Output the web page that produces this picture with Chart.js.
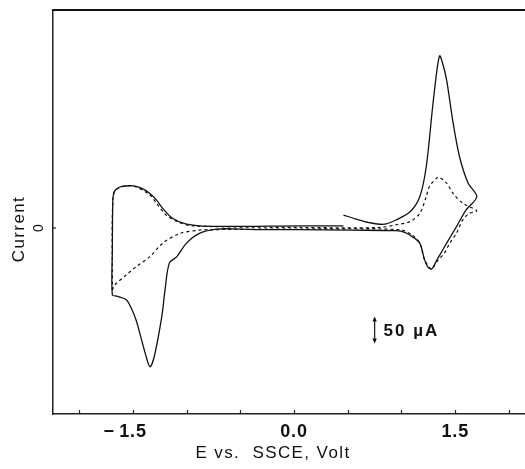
<!DOCTYPE html>
<html>
<head>
<meta charset="utf-8">
<script src="https://cdn.jsdelivr.net/npm/chart.js@4.4.0/dist/chart.umd.min.js"></script>
<style>
  html, body { margin: 0; padding: 0; background: #fff; }
  canvas { display: block; }
</style>
</head>
<body>
<canvas id="cv" width="525" height="469"></canvas>
<script>
// first scan (solid line): potential in V vs SSCE, current in µA
const solidPotential = [0.46, 0.57, 0.70, 0.84, 0.95, 1.08, 1.17, 1.23, 1.29, 1.33, 1.355, 1.38, 1.42, 1.48, 1.54, 1.62, 1.70,
  1.60, 1.51, 1.42, 1.33, 1.28, 1.245, 1.215, 1.17, 1.10, 1.03, 0.95, 0.52, 0.05, -0.32, -0.50, -0.72,
  -0.88, -1.00, -1.09, -1.16, -1.20, -1.23, -1.30, -1.34, -1.38, -1.41, -1.47, -1.52, -1.56, -1.62, -1.65, -1.69,
  -1.69, -1.685, -1.673, -1.652, -1.60, -1.50, -1.42, -1.34, -1.28, -1.22, -1.13, -1.00, -0.78, 0.05, 0.46];
const solidCurrent = [24, 17, 10, 7, 15, 30, 58, 113, 225, 293, 319, 307, 274, 195, 132, 83, 58,
  33, 2, -28, -59, -76, -72, -59, -28, -16, -8, -5, -4, -3, -3, -2, -2,
  -10, -28, -53, -65, -115, -164, -238, -257, -235, -213, -170, -146, -133, -128, -126, -124,
  -41, 52, 67, 72, 77, 78, 74, 64, 52, 36, 18, 7, 3, 4, 4];

// second scan (dotted line)
const dashedPotential = [-1.69, -1.686, -1.652, -1.50, -1.34, -1.28, -1.19, -1.09, -0.94, 0.05, 0.80, 0.95, 1.08, 1.17, 1.23,
  1.26, 1.325, 1.35, 1.42, 1.48, 1.57, 1.70, 1.63, 1.57, 1.51, 1.45, 1.40, 1.325, 1.28, 1.215, 1.17, 1.10, 0.98,
  0.05, -0.78, -0.88, -1.06, -1.22, -1.34, -1.47, -1.56, -1.67, -1.69];
const dashedCurrent = [-115, 52, 72, 78, 61, 46, 24, 12, 4, 1, 1, 6, 12, 27, 58,
  77, 92, 94, 83, 64, 46, 32, 27, 15, -10, -28, -46, -63, -76, -59, -28, -13, -3,
  -2, -3, -4, -10, -28, -53, -72, -87, -106, -115];

const xTicks = [-2.0, -1.5, -1.0, -0.5, 0.0, 0.5, 1.0, 1.5, 2.0];
// the minus hangs to the left of the tick in the original, so pad the right side
const xTickLabels = ['', '\u2212\u20091.5\u2007\u2009', '', '', '0.0', '', '', '1.5', ''];
const yTicks = [0];
const yTickLabels = ['0'];
const scaleBar = { potential: 0.75, from: -214, to: -164, label: '50 \u00b5A' };
const xTitle = 'E vs.  SSCE, Volt';
const yTitle = 'Current';

const toPoints = (xs, ys) => xs.map((x, i) => ({ x: x, y: ys[i] }));

const FONT = '"Liberation Sans", Arial, Helvetica, sans-serif';

const extras = {
  id: 'extras',
  beforeDraw(chart) {
    chart.ctx.letterSpacing = '0.8px';
  },
  beforeDatasetsDraw(chart) {
    chart.ctx.letterSpacing = '0px';
  },
  afterDraw(chart) {
    const ctx = chart.ctx;
    const xs = chart.scales.x;
    const ys = chart.scales.y;
    ctx.save();
    ctx.strokeStyle = '#222';
    ctx.fillStyle = '#111';
    ctx.lineWidth = 1.2;

    // small inward tick marks
    xTicks.forEach(v => {
      const px = Math.round(xs.getPixelForValue(v)) + 0.5;
      ctx.beginPath();
      ctx.moveTo(px, ys.bottom);
      ctx.lineTo(px, ys.bottom - 4);
      ctx.stroke();
    });
    yTicks.forEach((v, i) => {
      const py = ys.getPixelForValue(v);
      ctx.beginPath();
      ctx.moveTo(xs.left, py);
      ctx.lineTo(xs.left + 3, py);
      ctx.stroke();
      ctx.save();
      ctx.translate(39, py);
      ctx.rotate(-Math.PI / 2);
      ctx.font = '14px ' + FONT;
      ctx.textAlign = 'center';
      ctx.textBaseline = 'middle';
      ctx.fillText(yTickLabels[i], 0, 0);
      ctx.restore();
    });

    // 50 µA scale bar
    const bx = xs.getPixelForValue(scaleBar.potential);
    const y1 = ys.getPixelForValue(scaleBar.to);
    const y2 = ys.getPixelForValue(scaleBar.from);
    ctx.lineWidth = 1.3;
    ctx.beginPath();
    ctx.moveTo(bx, y1 + 2);
    ctx.lineTo(bx, y2 - 2);
    ctx.stroke();
    ctx.beginPath();
    ctx.moveTo(bx, y1); ctx.lineTo(bx - 2.2, y1 + 5); ctx.lineTo(bx + 2.2, y1 + 5); ctx.closePath();
    ctx.moveTo(bx, y2); ctx.lineTo(bx - 2.2, y2 - 5); ctx.lineTo(bx + 2.2, y2 - 5); ctx.closePath();
    ctx.fill();
    ctx.font = 'bold 17px ' + FONT;
    ctx.letterSpacing = '2px';
    ctx.textAlign = 'left';
    ctx.textBaseline = 'middle';
    ctx.fillText(scaleBar.label, bx + 9, (y1 + y2) / 2 + 1);

    // axis titles
    ctx.font = '17px ' + FONT;
    ctx.letterSpacing = '1.4px';
    ctx.textAlign = 'center';
    ctx.fillText(xTitle, 273, 453);
    ctx.save();
    ctx.translate(19, 229);
    ctx.rotate(-Math.PI / 2);
    ctx.fillText(yTitle, 0, 0);
    ctx.restore();

    ctx.restore();
  }
};

new Chart(document.getElementById('cv'), {
  type: 'scatter',
  data: {
    datasets: [
      {
        label: 'scan 1',
        data: toPoints(solidPotential, solidCurrent),
        showLine: true,
        borderColor: '#111',
        borderWidth: 1.3,
        pointRadius: 0,
        tension: 0.3,
        fill: false,
      },
      {
        label: 'scan 2',
        data: toPoints(dashedPotential, dashedCurrent),
        showLine: true,
        borderColor: '#111',
        borderWidth: 1.2,
        borderDash: [3, 3],
        pointRadius: 0,
        tension: 0.3,
        fill: false,
      },
    ]
  },
  options: {
    responsive: false,
    animation: false,
    layout: { padding: { top: 9.5, right: 0, bottom: 0, left: 0 } },
    plugins: {
      legend: { display: false },
      tooltip: { enabled: false },
    },
    scales: {
      x: {
        type: 'linear',
        position: 'bottom',
        min: -2.242,
        max: 2.149,
        afterBuildTicks: scale => { scale.ticks = xTicks.map(v => ({ value: v })); },
        afterFit: scale => { scale.height = 55; },
        grid: { display: false, drawTicks: false, tickLength: 0 },
        border: { display: true, color: '#222', width: 1.5 },
        ticks: {
          padding: 7,
          color: '#111',
          font: { family: FONT, size: 18, weight: 'bold' },
          maxRotation: 0,
          autoSkip: false,
          callback: (value, i) => xTickLabels[i],
        },
      },
      x2: {
        type: 'linear',
        position: 'top',
        display: true,
        afterFit: scale => { scale.height = 0; },
        grid: { display: false, drawTicks: false },
        border: { display: true, color: '#111', width: 2 },
        ticks: { display: false },
      },
      y: {
        type: 'linear',
        position: 'left',
        min: -344.5,
        max: 404.7,
        afterFit: scale => { scale.width = 53; },
        grid: { display: false, drawTicks: false },
        border: { display: true, color: '#222', width: 1.5 },
        ticks: { display: false },
      },
    },
  },
  plugins: [extras],
});
</script>
</body>
</html>
